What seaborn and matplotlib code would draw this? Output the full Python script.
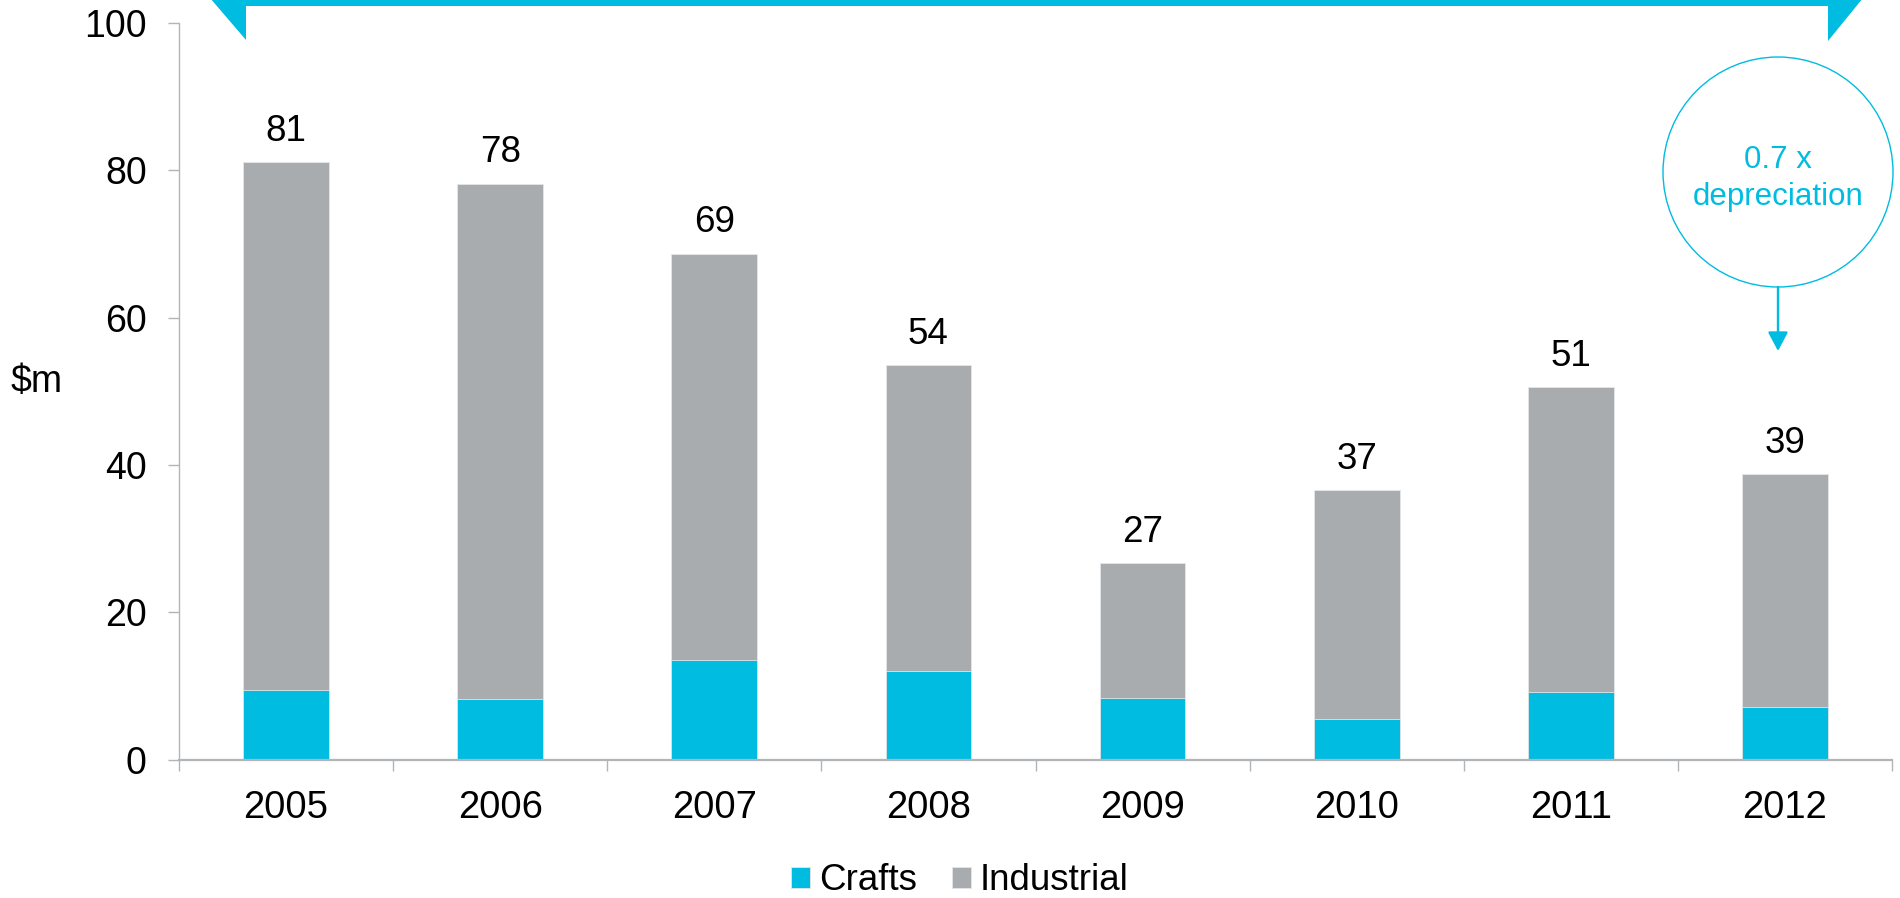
import matplotlib
matplotlib.use("Agg")
import matplotlib.pyplot as plt
from matplotlib.patches import Polygon, Ellipse, FancyArrowPatch, ArrowStyle
from matplotlib.ticker import FixedLocator
import numpy as np
import pandas as pd
import seaborn as sns

# --- data ($m) ---
years = ["2005", "2006", "2007", "2008", "2009", "2010", "2011", "2012"]
crafts = [9.4, 8.2, 13.5, 12.0, 8.4, 5.5, 9.1, 7.1]
industrial = [71.7, 70.0, 55.2, 41.6, 18.3, 31.1, 41.5, 31.7]
series_names = ["Crafts", "Industrial"]
y_ticks = [0, 20, 40, 60, 80, 100]
y_label = "$m"
callout_lines = ["0.7 x", "depreciation"]

CYAN = "#00BCE1"
GREY = "#A8ACAF"
AXIS = "#B2B5B8"

df = pd.DataFrame({"year": years, "crafts": crafts, "industrial": industrial})
df["total"] = df["crafts"] + df["industrial"]

sns.set_theme(style="white")
plt.rcParams["font.family"] = ["Liberation Sans", "DejaVu Sans"]
plt.rcParams["text.color"] = "black"

W, H = 1900, 898
fig = plt.figure(figsize=(W / 100, H / 100), dpi=100)
fig.patch.set_facecolor("white")


def fx(x, y):
    """Pixel position (from top-left) to figure fraction."""
    return (x / W, 1 - y / H)


ax = fig.add_axes([179 / W, 138.5 / H, (1892 - 179) / W, (875 - 138.5) / H])

# stacked bars: full height in grey, crafts share drawn over it in cyan
sns.barplot(data=df, x="year", y="total", order=years, color=GREY, saturation=1,
            width=0.4, errorbar=None, label=series_names[1], ax=ax,
            edgecolor="#E4E6E7", linewidth=0.6)
sns.barplot(data=df, x="year", y="crafts", order=years, color=CYAN, saturation=1,
            width=0.4, errorbar=None, label=series_names[0], ax=ax,
            edgecolor="#E4E6E7", linewidth=0.6)

handles, labels = ax.get_legend_handles_labels()
if ax.get_legend() is not None:
    ax.get_legend().remove()

# total labels above each bar
for i, tot in enumerate(df["total"]):
    ax.annotate(f"{tot:.0f}", xy=(i, tot), xytext=(0, 15.2), textcoords="offset points",
                ha="center", va="baseline", fontsize=26.5, color="black")

ax.set_xlim(-0.5, len(years) - 0.5)
ax.set_ylim(0, 100)
ax.yaxis.set_major_locator(FixedLocator(y_ticks))
ax.set_xlabel("")
ax.set_ylabel("")

for side in ("top", "right"):
    ax.spines[side].set_visible(False)
ax.spines["left"].set_color(AXIS)
ax.spines["left"].set_linewidth(1.0)
ax.spines["bottom"].set_color(AXIS)
ax.spines["bottom"].set_linewidth(1.6)

ax.tick_params(axis="y", which="major", direction="out", length=7.7, width=1.0,
               color=AXIS, labelsize=27, pad=15.5, labelcolor="black", left=True)
ax.tick_params(axis="x", which="major", length=0, labelsize=27.5, pad=22,
               labelcolor="black", bottom=True)
ax.xaxis.set_minor_locator(FixedLocator(np.arange(-0.5, len(years), 1.0)))
ax.tick_params(axis="x", which="minor", direction="out", length=8, width=1.0,
               color=AXIS, bottom=True)

# y-axis unit
fig.text(*fx(37, 382), y_label, ha="center", va="center", fontsize=27, color="black")

# legend: crafts first, then industrial
order = [labels.index(n) for n in series_names]
fig.legend([handles[k] for k in order], [labels[k] for k in order],
           loc="center", bbox_to_anchor=fx(960, 881), ncol=2, frameon=False,
           fontsize=26.5, labelcolor="black", handlelength=0.52, handleheight=0.52,
           handletextpad=0.25, columnspacing=0.93, borderpad=0, borderaxespad=0)

# bracket across the top of the period
bracket = [(210, -2), (1863, -2), (1828, 41), (1828, 6), (246, 6), (246, 40)]
fig.add_artist(Polygon([fx(x, y) for x, y in bracket], closed=True,
                       transform=fig.transFigure, facecolor=CYAN, edgecolor="none"))

# callout circle with arrow down to 2012
cx, cy, r = 1778, 172, 115
fig.add_artist(Ellipse(fx(cx, cy), width=2 * r / W, height=2 * r / H,
                       transform=fig.transFigure, facecolor="none",
                       edgecolor=CYAN, linewidth=1.0))
fig.text(*fx(cx, 168), callout_lines[0], ha="center", va="baseline",
         fontsize=22.5, color=CYAN)
fig.text(*fx(cx, 205), callout_lines[1], ha="center", va="baseline",
         fontsize=22.5, color=CYAN)
fig.add_artist(FancyArrowPatch(fx(cx, cy + r), fx(cx, 351), transform=fig.transFigure,
                               arrowstyle=ArrowStyle("-|>", head_length=1.0, head_width=0.53),
                               mutation_scale=11.5, color=CYAN, linewidth=1.7,
                               shrinkA=0, shrinkB=0))

fig.savefig("out.png", dpi=100, facecolor="white")
